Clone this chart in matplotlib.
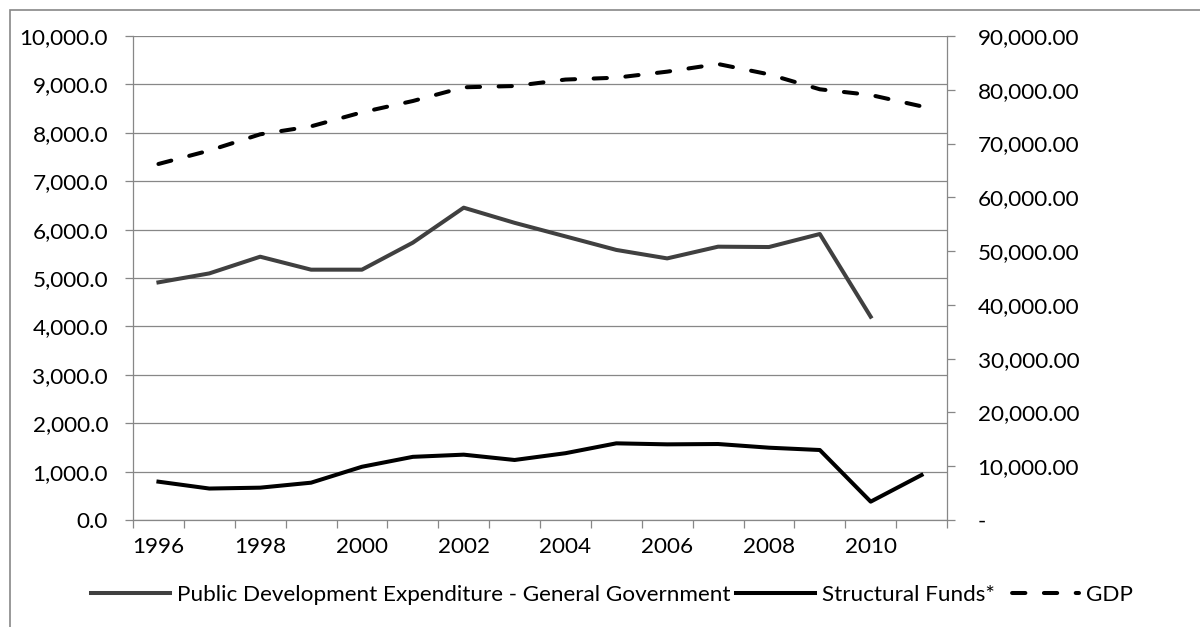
import matplotlib
matplotlib.use("Agg")
import matplotlib.pyplot as plt
from matplotlib.lines import Line2D
from matplotlib.patches import Rectangle
from matplotlib.ticker import FuncFormatter, FixedLocator, NullFormatter

plt.rcParams['font.family'] = ['Lato', 'DejaVu Sans']

years = list(range(1996, 2012))
public_dev = [4910, 5095, 5440, 5172, 5172, 5730, 6453, 6140, 5860,
              5580, 5405, 5647, 5640, 5909, 4200]
structural = [792, 650, 668, 771, 1100, 1305, 1350, 1240, 1380,
              1584, 1563, 1570, 1494, 1446, 379, 930]
gdp = [66200, 68700, 71720, 73200, 75810, 77910, 80460, 80700, 81900,
       82250, 83370, 84790, 82870, 80090, 79030, 76920]
year_labels = [str(y) if (y - 1996) % 2 == 0 else "" for y in years]

GRID = "#878787"
FS = 16.2
LW = 2.9
DASH = (3.3, 4.6)

fig = plt.figure(figsize=(12, 6.27), dpi=100)
ax = fig.add_axes([133 / 1200, 1 - 520 / 627, (947 - 133) / 1200, (520 - 36) / 627])
ax2 = ax.twinx()

x = list(range(len(years)))
ax.plot(x[:len(public_dev)], public_dev, color="#404040", lw=LW,
        solid_joinstyle="round", zorder=3)
ax.plot(x[:len(structural)], structural, color="#000000", lw=LW,
        solid_joinstyle="round", zorder=3)
ax2.plot(x[:len(gdp)], gdp, color="#000000", lw=LW,
         linestyle=(0, DASH), dash_capstyle="round", zorder=3)

# left axis
ax.set_xlim(-0.5, len(years) - 0.5)
ax.set_ylim(0, 10000)
ax.set_yticks(range(0, 10001, 1000))
ax.yaxis.set_major_formatter(FuncFormatter(lambda v, p: f"{v:,.1f}"))
ax.grid(axis="y", color=GRID, lw=0.9)
ax.set_axisbelow(True)

# category axis: ticks between categories, labels at category centres
ax.xaxis.set_major_locator(FixedLocator([i - 0.5 for i in range(len(years) + 1)]))
ax.xaxis.set_major_formatter(NullFormatter())
ax.xaxis.set_minor_locator(FixedLocator(x))
ax.set_xticklabels(year_labels, minor=True)
ax.tick_params(axis="x", which="major", length=6, width=0.9, color=GRID, direction="out")
ax.tick_params(axis="x", which="minor", length=0, pad=12, labelsize=FS)
ax.tick_params(axis="y", length=6, width=0.9, color=GRID, pad=12, labelsize=FS)

# right axis
ax2.set_ylim(0, 90000)
ax2.set_yticks(range(0, 90001, 10000))
ax2.yaxis.set_major_formatter(
    FuncFormatter(lambda v, p: "-" if v == 0 else f"{v:,.2f}"))
ax2.tick_params(axis="y", length=6, width=0.9, color=GRID, pad=16, labelsize=FS)

for a in (ax, ax2):
    a.spines["top"].set_visible(False)
    for s in a.spines.values():
        s.set_color(GRID)
        s.set_linewidth(0.9)
ax2.spines["left"].set_visible(False)
ax2.spines["bottom"].set_visible(False)
ax.spines["right"].set_visible(False)

# legend
handles = [
    Line2D([], [], color="#404040", lw=LW),
    Line2D([], [], color="#000000", lw=LW),
    Line2D([], [], color="#000000", lw=LW, linestyle=(4.9, DASH),
           dash_capstyle="round"),
]
labels = ["Public Development Expenditure - General Government",
          "Structural Funds*", "GDP"]
fig.legend(handles, labels, loc="center", bbox_to_anchor=(612 / 1200, 1 - 595 / 627),
           ncol=3, frameon=False, fontsize=FS, handlelength=3.5,
           handletextpad=0.3, columnspacing=0.25)

# chart frame
fig.patches.append(Rectangle((10 / 1200, -0.1), 1.2, 1 - 10 / 627 + 0.1,
                             transform=fig.transFigure, fill=False,
                             edgecolor=GRID, lw=1.2))

fig.savefig("out.png", dpi=100)
